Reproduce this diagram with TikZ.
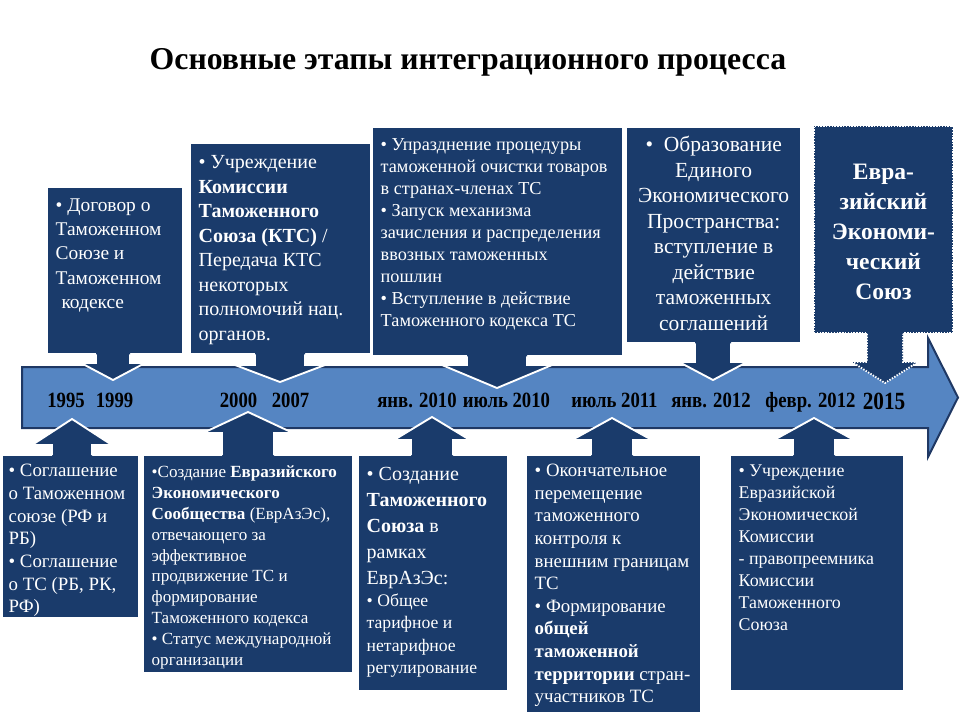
\documentclass[tikz,border=0pt]{standalone}
\usepackage{fontspec}
\setmainfont{Liberation Serif}
\usetikzlibrary{calc}

\definecolor{navy}{HTML}{1A3B6B}
\definecolor{bandblue}{HTML}{5585C2}
\definecolor{bandedge}{HTML}{1F3864}

\newlength{\pxu}
\setlength{\pxu}{0.85pt}

% text of a stage box: width, height, setup, first baseline, lines
\newcommand{\stagetext}[5]{\parbox[t][#2\pxu][t]{#1\pxu}{#3\rule{0pt}{#4\pxu}#5}}
\newcommand{\fs}[2]{\fontsize{#1}{#2}\selectfont}
\newcommand{\narrow}[1]{\scalebox{0.86}[1]{#1}}

% pointer from a box down to the band: box, tip, stem, head, head length
\newcommand{\pointdown}[6][ptredge]{%
  \fill[navy] let \p1=(#3), \p2=(#2.south) in
    (\x1-#4\pxu,\y2+3\pxu) -- (\x1-#4\pxu,\y1+#6\pxu) -- (\x1-#5\pxu,\y1+#6\pxu) -- (\p1)
    -- (\x1+#5\pxu,\y1+#6\pxu) -- (\x1+#4\pxu,\y1+#6\pxu) -- (\x1+#4\pxu,\y2+3\pxu) -- cycle;
  \draw[#1] let \p1=(#3), \p2=(#2.south) in
    (\x1-#4\pxu,\y2) -- (\x1-#4\pxu,\y1+#6\pxu) -- (\x1-#5\pxu,\y1+#6\pxu) -- (\p1)
    -- (\x1+#5\pxu,\y1+#6\pxu) -- (\x1+#4\pxu,\y1+#6\pxu) -- (\x1+#4\pxu,\y2);
}
% pointer from a box up to the band
\newcommand{\pointup}[6][ptredge]{%
  \fill[navy] let \p1=(#3), \p2=(#2.north) in
    (\x1-#4\pxu,\y2-3\pxu) -- (\x1-#4\pxu,\y1-#6\pxu) -- (\x1-#5\pxu,\y1-#6\pxu) -- (\p1)
    -- (\x1+#5\pxu,\y1-#6\pxu) -- (\x1+#4\pxu,\y1-#6\pxu) -- (\x1+#4\pxu,\y2-3\pxu) -- cycle;
  \draw[#1] let \p1=(#3), \p2=(#2.north) in
    (\x1-#4\pxu,\y2) -- (\x1-#4\pxu,\y1-#6\pxu) -- (\x1-#5\pxu,\y1-#6\pxu) -- (\p1)
    -- (\x1+#5\pxu,\y1-#6\pxu) -- (\x1+#4\pxu,\y1-#6\pxu) -- (\x1+#4\pxu,\y2);
}

\tikzset{
  stagebox/.style={fill=navy, draw=white, line width=1.2pt, text=white,
    anchor=north west, inner xsep=8\pxu, inner ysep=0pt},
  ptredge/.style={draw=white, line width=1.6pt},
  ptredgedot/.style={draw=white, line width=1.6pt, dash pattern=on 1.2pt off 1.2pt},
  band/.style={fill=bandblue, draw=bandedge, line width=1.7pt},
  year/.style={font=\bfseries\fs{18.5}{20}, anchor=base, text=black},
}

\begin{document}
\begin{tikzpicture}[x=0.85pt,y=-0.85pt]
\useasboundingbox (0,0) rectangle (960,720);
\node[font=\bfseries\fs{27}{30}, anchor=base] (title) at (468,69) {Основные этапы интеграционного процесса};

% time band
\draw[band] (22,367) -- (928,367) -- (928,338) -- (958,397.5) -- (928,457) -- (928,428) -- (22,428) -- cycle;

% tips on the band
\coordinate (d1) at (113,380);
\coordinate (d2) at (280,382);
\coordinate (d3) at (497,388);
\coordinate (d4) at (713,380);
\coordinate (d5) at (885,383);
\coordinate (u1) at (72,419);
\coordinate (u2) at (248,412);
\coordinate (u3) at (432,417);
\coordinate (u4) at (612,418);
\coordinate (u5) at (814,418);

% upper stages
\node[stagebox] (t1) at (47,187) {\stagetext{119}{166}{\raggedright\fs{16.5}{20.5}}{24}{%
• Договор о\\ Таможенном\\ Союзе и\\ Таможенном\\ \hspace*{0.3em}кодексе}};
\node[stagebox] (t2) at (190,143) {\stagetext{164}{210}{\raggedright\fs{17}{20.8}}{25}{%
• Учреждение\\ \textbf{Комиссии}\\ \textbf{Таможенного}\\ \textbf{Союза (КТС)} /\\
Передача КТС\\ некоторых\\ полномочий нац.\\ органов.}};
\node[stagebox] (t3) at (372,127) {\stagetext{234}{228}{\raggedright\fs{15.5}{18.7}}{23}{%
• Упразднение процедуры\\ таможенной очистки товаров\\ в странах-членах ТС\\
• Запуск механизма\\ зачисления и распределения\\ ввозных таможенных\\ пошлин\\
• Вступление в действие\\ Таможенного кодекса ТС}};
\node[stagebox] (t4) at (626,127) {\stagetext{158}{215}{\centering\fs{18.3}{21.7}}{24}{%
•\enspace Образование\hspace*{0.6em}\\ Единого\\ Экономического\\ Пространства:\\ вступление в\\
действие\\ таможенных\\ соглашений}};
\node[stagebox, ptredgedot] (t5) at (813,125) {\stagetext{123}{207}{\centering\bfseries\fs{20}{25.5}}{54}{%
Евра-\\ зийский\\ Экономи-\\ ческий\\ Союз}};

% lower stages
\node[stagebox, inner xsep=6\pxu] (b1) at (2,455) {\stagetext{124}{162}{\raggedright\fs{16}{19.3}}{21}{%
• Соглашение\\ о Таможенном\\ союзе (РФ и\\ РБ)\\ • Соглашение\\ о ТС (РБ, РК,\\ РФ)}};
\node[stagebox] (b2) at (143,455) {\stagetext{193}{217}{\raggedright\fs{14.5}{17.7}}{22}{%
•Создание \textbf{Евразийского}\\ \textbf{Экономического}\\ \textbf{Сообщества} (ЕврАзЭс),\\
отвечающего за\\ эффективное\\ продвижение ТС и\\ формирование\\ Таможенного кодекса\\
• Статус международной\\ организации}};
\node[stagebox] (b3) at (358,455) {\stagetext{133}{235}{\raggedright\fs{17}{22}}{25}{%
• Создание\\ \textbf{Таможенного}\\ \textbf{Союза} в\\ рамках\\ ЕврАзЭс:\par
\fs{15}{19}• Общее\\ тарифное и\\ нетарифное\\ регулирование}};
\node[stagebox] (b4) at (526,455) {\stagetext{158}{257}{\raggedright\fs{16}{19.2}}{21}{%
• Окончательное\\ перемещение\\ таможенного\\ контроля к\\ внешним границам\\ ТС\\
• Формирование\\ \textbf{общей}\\ \textbf{таможенной}\\ \textbf{территории} стран-\\ участников ТС}};
\node[stagebox] (b5) at (730,455) {\stagetext{157}{235}{\raggedright\fs{15.2}{18.7}}{21}{%
• Учреждение\\ Евразийской\\ Экономической\\ Комиссии\\ - правопреемника\\ Комиссии\\
Таможенного\\ Союза}};

% pointers
\pointdown{t1}{d1}{17}{32}{17}
\pointdown{t2}{d2}{25}{45}{17}
\pointdown{t3}{d3}{30}{55}{23}
\pointdown{t4}{d4}{18}{34}{18}
\pointdown[ptredgedot]{t5}{d5}{18}{33}{21}
\pointup{b1}{u1}{20}{40}{26}
\pointup{b2}{u2}{26}{45}{21}
\pointup{b3}{u3}{21}{38}{23}
\pointup{b4}{u4}{21}{40}{22}
\pointup{b5}{u5}{21}{40}{22}

% dates
\node[year] (y1995) at (66,407) {\narrow{1995}};
\node[year] (y1999) at (114.5,407) {\narrow{1999}};
\node[year] (y2000) at (238.5,407) {\narrow{2000}};
\node[year] (y2007) at (290.5,407) {\narrow{2007}};
\node[year] (y2010a) at (417,407) {\narrow{янв. 2010}};
\node[year] (y2010b) at (506.5,407) {\narrow{июль 2010}};
\node[year] (y2011) at (614.5,407) {\narrow{июль 2011}};
\node[year] (y2012a) at (711,407) {\narrow{янв. 2012}};
\node[year] (y2012b) at (810.5,407) {\narrow{февр. 2012}};
\node[year, font=\bfseries\fs{21}{23}] (y2015) at (884,409) {\narrow{2015}};
\end{tikzpicture}
\end{document}
